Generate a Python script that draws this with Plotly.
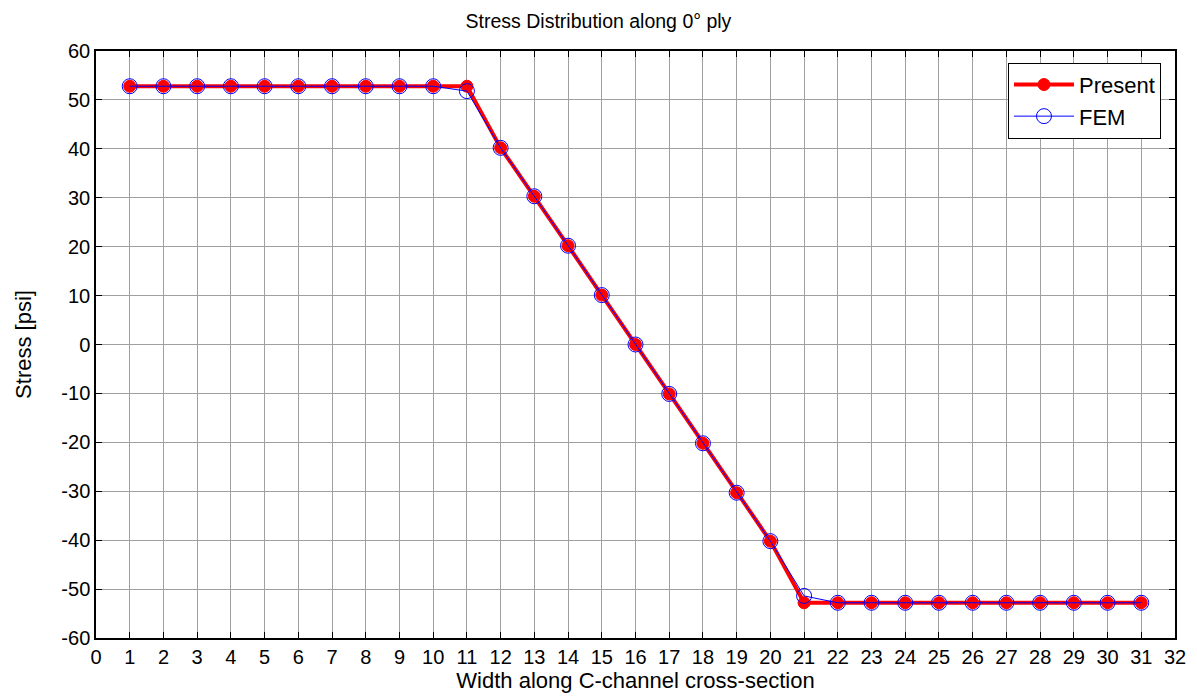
import plotly.graph_objects as go

# Node positions across the C-channel width
width_pos = list(range(1, 32))

# Stress from the present analytical model [psi]
present_stress = [52.8] * 11 + [40.2, 30.3, 20.2, 10.1, 0.0, -10.1, -20.2, -30.3, -40.2] + [-52.8] * 11

# Stress from finite element model [psi]
fem_stress = [52.8] * 10 + [51.8, 40.2, 30.3, 20.2, 10.1, 0.0, -10.1, -20.2, -30.3, -40.2, -51.4] + [-52.8] * 10

x_ticks = list(range(0, 33))
y_ticks = list(range(-60, 61, 10))

font_family = "Liberation Sans, Arial, Helvetica, sans-serif"

fig = go.Figure()

fig.add_trace(go.Scatter(
    x=width_pos, y=present_stress, name="Present",
    mode="lines+markers",
    line=dict(color="#ff0000", width=4),
    marker=dict(symbol="circle", size=12, color="#ff0000",
                line=dict(color="#ff0000", width=1)),
))

fig.add_trace(go.Scatter(
    x=width_pos, y=fem_stress, name="FEM",
    mode="lines+markers",
    line=dict(color="#0000ff", width=1),
    marker=dict(symbol="circle-open", size=15, color="#0000ff",
                line=dict(color="#0000ff", width=1)),
))

axis_common = dict(
    showline=True, linecolor="black", linewidth=1.5, mirror="ticks",
    ticks="inside", ticklen=6, tickcolor="black", tickwidth=1,
    showgrid=True, gridcolor="#a0a0a0", gridwidth=1,
    zeroline=False,
    tickfont=dict(family=font_family, size=20, color="black"),
)

fig.update_xaxes(
    range=[0, 32], tickmode="array", tickvals=x_ticks,
    ticktext=[str(v) for v in x_ticks],
    title=dict(text="Width along C-channel cross-section",
               font=dict(family=font_family, size=22, color="black"), standoff=0),
    **axis_common,
)
fig.update_yaxes(
    range=[-60, 60], tickmode="array", tickvals=y_ticks,
    ticktext=[str(v) for v in y_ticks],
    title=dict(text="Stress [psi]",
               font=dict(family=font_family, size=22, color="black"), standoff=24),
    **axis_common,
)

fig.update_layout(
    width=1197, height=696,
    margin=dict(l=96, r=22, t=51, b=58),
    paper_bgcolor="white", plot_bgcolor="white",
    title=dict(text="Stress Distribution along 0° ply", x=0.5, xanchor="center",
               y=1 - 21 / 696, yanchor="middle",
               font=dict(family=font_family, size=19.5, color="black")),
    legend=dict(
        x=0.987, y=0.98, xanchor="right", yanchor="top",
        bgcolor="white", bordercolor="black", borderwidth=1,
        font=dict(family=font_family, size=22, color="black"),
        itemwidth=60, tracegroupgap=2,
    ),
    showlegend=True,
)

fig.write_html("out.html")
